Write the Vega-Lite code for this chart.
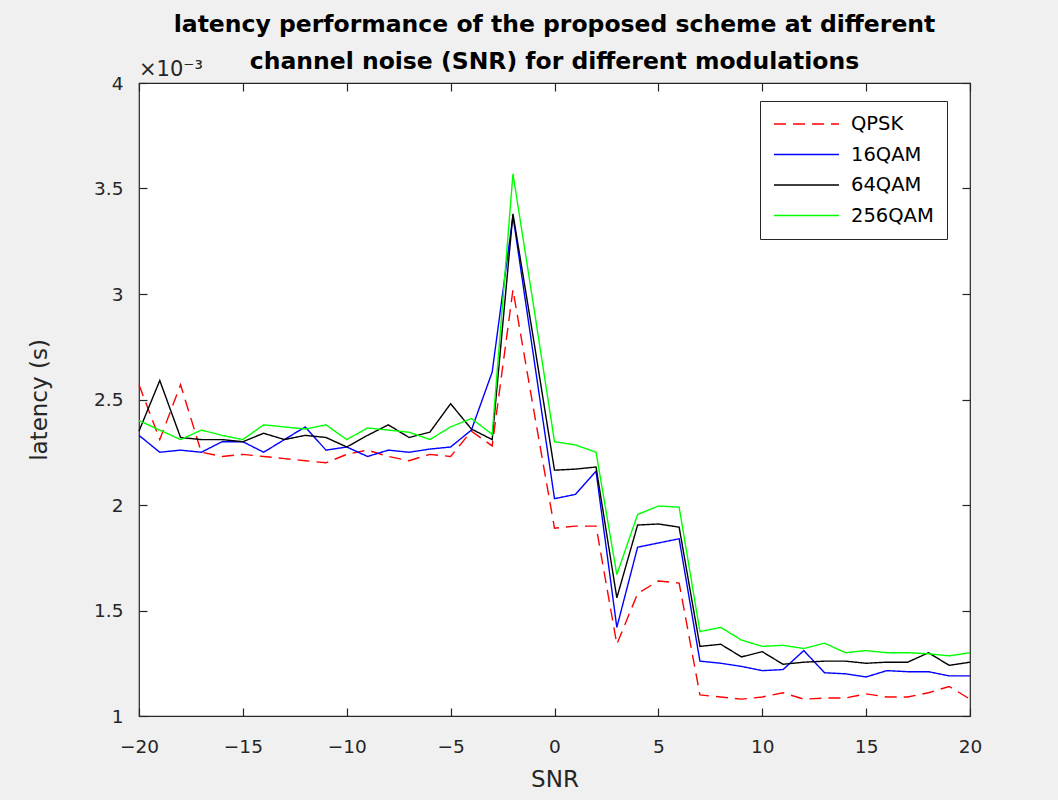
{
  "$schema": "https://vega.github.io/schema/vega-lite/v6.json",
  "width": 831,
  "height": 633,
  "autosize": {"type": "none"},
  "padding": {"left": 139, "top": 83, "right": 88, "bottom": 84},
  "background": "#f0f0f0",
  "config": {
    "font": "DejaVu Sans",
    "view": {"fill": "white", "stroke": "#262626", "strokeWidth": 1.2},
    "axis": {
      "grid": false,
      "domain": false,
      "labelFlush": false,
      "tickColor": "#262626",
      "tickSize": -8,
      "tickWidth": 1.2,
      "labelFont": "DejaVu Sans",
      "labelFontSize": 18.5,
      "labelColor": "#262626",
      "titleFont": "DejaVu Sans",
      "titleFontSize": 23,
      "titleFontWeight": "normal",
      "titleColor": "#262626"
    },
    "legend": {
      "orient": "none",
      "legendX": 621,
      "legendY": 18,
      "symbolType": "stroke",
      "symbolSize": 4225,
      "symbolStrokeWidth": 1.4,
      "clipHeight": 20,
      "rowPadding": 10.5,
      "padding": 13,
      "labelOffset": 11,
      "labelFont": "DejaVu Sans",
      "labelFontSize": 19.5,
      "labelColor": "black",
      "strokeColor": "#262626",
      "fillColor": "white",
      "cornerRadius": 0
    }
  },
  "title": {
    "text": ["latency performance of the proposed scheme at different", "channel noise (SNR) for different modulations"],
    "font": "DejaVu Sans",
    "fontSize": 23.5,
    "fontWeight": "bold",
    "color": "black",
    "lineHeight": 37,
    "offset": 12,
    "dy": 26,
    "anchor": "middle"
  },
  "layer": [
    {
      "data": {
        "values": [
          {"SNR": -20, "QPSK": 0.00257, "16QAM": 0.00233, "64QAM": 0.00235, "256QAM": 0.00240},
          {"SNR": -19, "QPSK": 0.00231, "16QAM": 0.00225, "64QAM": 0.00259, "256QAM": 0.002355},
          {"SNR": -18, "QPSK": 0.00257, "16QAM": 0.00226, "64QAM": 0.00232, "256QAM": 0.00231},
          {"SNR": -17, "QPSK": 0.00225, "16QAM": 0.00225, "64QAM": 0.00231, "256QAM": 0.002355},
          {"SNR": -16, "QPSK": 0.00223, "16QAM": 0.00230, "64QAM": 0.00231, "256QAM": 0.00233},
          {"SNR": -15, "QPSK": 0.00224, "16QAM": 0.00230, "64QAM": 0.00230, "256QAM": 0.00231},
          {"SNR": -14, "QPSK": 0.00223, "16QAM": 0.00225, "64QAM": 0.00234, "256QAM": 0.00238},
          {"SNR": -13, "QPSK": 0.00222, "16QAM": 0.00231, "64QAM": 0.00231, "256QAM": 0.00237},
          {"SNR": -12, "QPSK": 0.00221, "16QAM": 0.00237, "64QAM": 0.00233, "256QAM": 0.00236},
          {"SNR": -11, "QPSK": 0.00220, "16QAM": 0.00226, "64QAM": 0.00232, "256QAM": 0.00238},
          {"SNR": -10, "QPSK": 0.00224, "16QAM": 0.002275, "64QAM": 0.002275, "256QAM": 0.00231},
          {"SNR": -9, "QPSK": 0.00226, "16QAM": 0.00223, "64QAM": 0.00233, "256QAM": 0.002365},
          {"SNR": -8, "QPSK": 0.00223, "16QAM": 0.00226, "64QAM": 0.00238, "256QAM": 0.002355},
          {"SNR": -7, "QPSK": 0.00221, "16QAM": 0.00225, "64QAM": 0.00232, "256QAM": 0.002345},
          {"SNR": -6, "QPSK": 0.00224, "16QAM": 0.002265, "64QAM": 0.002345, "256QAM": 0.00231},
          {"SNR": -5, "QPSK": 0.00223, "16QAM": 0.002275, "64QAM": 0.00248, "256QAM": 0.00237},
          {"SNR": -4, "QPSK": 0.00235, "16QAM": 0.002355, "64QAM": 0.00236, "256QAM": 0.00241},
          {"SNR": -3, "QPSK": 0.00228, "16QAM": 0.00263, "64QAM": 0.00231, "256QAM": 0.002335},
          {"SNR": -2, "QPSK": 0.00302, "16QAM": 0.00337, "64QAM": 0.00338, "256QAM": 0.00357},
          {"SNR": -1, "QPSK": 0.00245, "16QAM": 0.00270, "64QAM": 0.00278, "256QAM": 0.00294},
          {"SNR": 0, "QPSK": 0.00189, "16QAM": 0.00203, "64QAM": 0.002165, "256QAM": 0.00230},
          {"SNR": 1, "QPSK": 0.00190, "16QAM": 0.00205, "64QAM": 0.00217, "256QAM": 0.002285},
          {"SNR": 2, "QPSK": 0.00190, "16QAM": 0.00216, "64QAM": 0.00218, "256QAM": 0.00225},
          {"SNR": 3, "QPSK": 0.00134, "16QAM": 0.00142, "64QAM": 0.00156, "256QAM": 0.00167},
          {"SNR": 4, "QPSK": 0.00158, "16QAM": 0.00180, "64QAM": 0.001905, "256QAM": 0.001955},
          {"SNR": 5, "QPSK": 0.00164, "16QAM": 0.00182, "64QAM": 0.00191, "256QAM": 0.001995},
          {"SNR": 6, "QPSK": 0.00163, "16QAM": 0.00184, "64QAM": 0.001895, "256QAM": 0.00199},
          {"SNR": 7, "QPSK": 0.00110, "16QAM": 0.00126, "64QAM": 0.00133, "256QAM": 0.00140},
          {"SNR": 8, "QPSK": 0.00109, "16QAM": 0.00125, "64QAM": 0.00134, "256QAM": 0.00142},
          {"SNR": 9, "QPSK": 0.00108, "16QAM": 0.001235, "64QAM": 0.00128, "256QAM": 0.00136},
          {"SNR": 10, "QPSK": 0.00109, "16QAM": 0.001215, "64QAM": 0.001305, "256QAM": 0.00133},
          {"SNR": 11, "QPSK": 0.00111, "16QAM": 0.00122, "64QAM": 0.001245, "256QAM": 0.001335},
          {"SNR": 12, "QPSK": 0.00108, "16QAM": 0.00131, "64QAM": 0.001255, "256QAM": 0.00132},
          {"SNR": 13, "QPSK": 0.001085, "16QAM": 0.001205, "64QAM": 0.00126, "256QAM": 0.001345},
          {"SNR": 14, "QPSK": 0.001085, "16QAM": 0.00120, "64QAM": 0.00126, "256QAM": 0.00130},
          {"SNR": 15, "QPSK": 0.001105, "16QAM": 0.001185, "64QAM": 0.00125, "256QAM": 0.00131},
          {"SNR": 16, "QPSK": 0.00109, "16QAM": 0.001215, "64QAM": 0.001255, "256QAM": 0.00130},
          {"SNR": 17, "QPSK": 0.00109, "16QAM": 0.00121, "64QAM": 0.001255, "256QAM": 0.00130},
          {"SNR": 18, "QPSK": 0.00111, "16QAM": 0.00121, "64QAM": 0.00130, "256QAM": 0.001295},
          {"SNR": 19, "QPSK": 0.00114, "16QAM": 0.00119, "64QAM": 0.00124, "256QAM": 0.001285},
          {"SNR": 20, "QPSK": 0.00108, "16QAM": 0.00119, "64QAM": 0.001255, "256QAM": 0.00130}
        ]
      },
      "transform": [{"fold": ["QPSK", "16QAM", "64QAM", "256QAM"], "as": ["modulation", "latency"]}],
      "mark": {"type": "line", "strokeWidth": 1.4},
      "encoding": {
        "x": {
          "field": "SNR", "type": "quantitative",
          "scale": {"domain": [-20, 20], "nice": false},
          "axis": {"values": [-20, -15, -10, -5, 0, 5, 10, 15, 20], "labelPadding": 29, "title": "SNR", "titlePadding": 13}
        },
        "y": {
          "field": "latency", "type": "quantitative",
          "scale": {"domain": [0.001, 0.004], "nice": false, "zero": false},
          "axis": {"values": [0.001, 0.0015, 0.002, 0.0025, 0.003, 0.0035, 0.004], "labelExpr": "format(datum.value*1000, '.2~f')", "labelPadding": 24, "title": "latency (s)", "titlePadding": 42}
        },
        "color": {
          "field": "modulation", "type": "nominal",
          "scale": {"domain": ["QPSK", "16QAM", "64QAM", "256QAM"], "range": ["#ff0000", "#0000ff", "#000000", "#00ff00"]},
          "legend": {"title": null}
        },
        "strokeDash": {
          "field": "modulation", "type": "nominal",
          "scale": {"domain": ["QPSK", "16QAM", "64QAM", "256QAM"], "range": [[12, 7], [1, 0], [1, 0], [1, 0]]},
          "legend": {"title": null}
        }
      }
    },
    {
      "data": {"values": [{"SNR": -20, "latency": 0.004, "label": "×10⁻³"}]},
      "mark": {"type": "text", "align": "left", "baseline": "bottom", "dy": -3, "fontSize": 21, "color": "#262626", "font": "DejaVu Sans"},
      "encoding": {
        "x": {"field": "SNR", "type": "quantitative", "axis": {"orient": "top", "labels": false, "title": null, "values": [-20, -15, -10, -5, 0, 5, 10, 15, 20]}},
        "y": {"field": "latency", "type": "quantitative", "axis": {"orient": "right", "labels": false, "title": null, "values": [0.001, 0.0015, 0.002, 0.0025, 0.003, 0.0035, 0.004]}},
        "text": {"field": "label", "type": "nominal"}
      }
    }
  ],
  "resolve": {"axis": {"x": "independent", "y": "independent"}}
}
